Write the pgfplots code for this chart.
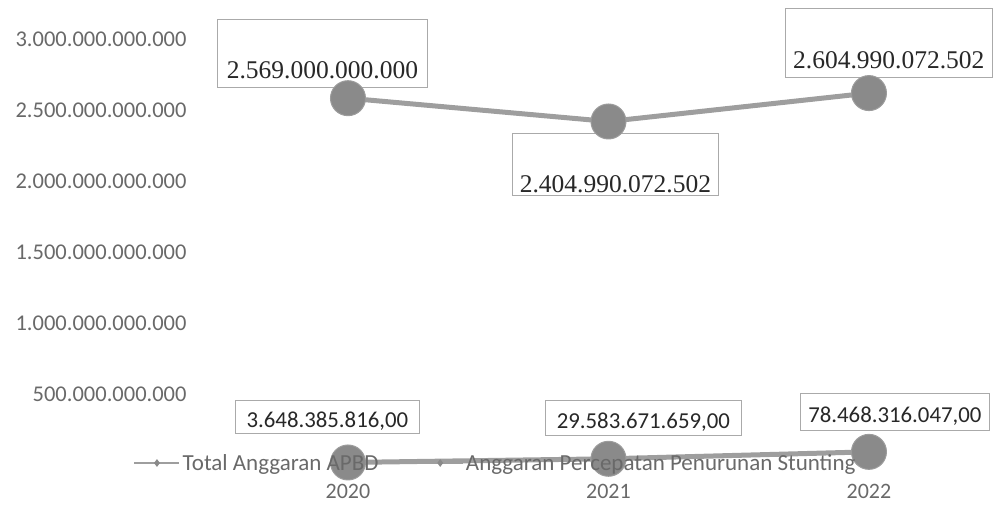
\documentclass[border=0pt]{standalone}
\usepackage{pgfplots}
\pgfplotsset{compat=1.18}
\usepackage{fontspec}
\setmainfont{Carlito}
\newfontfamily\tnr{Liberation Serif}
\usetikzlibrary{shapes.geometric}
\definecolor{lineg}{RGB}{158,158,158}
\definecolor{markg}{RGB}{138,138,138}
\definecolor{tickg}{RGB}{105,105,105}
\definecolor{boxg}{RGB}{170,170,170}
\definecolor{labg}{RGB}{40,40,40}
\tikzset{box/.style={draw=boxg, line width=0.8pt, fill=white, inner xsep=0pt, inner ysep=0pt, anchor=north west, text=labg}}
\begin{document}
\begin{tikzpicture}
\useasboundingbox (-217.75pt,-42pt) rectangle (776.25pt,463pt);
\begin{axis}[
  scale only axis, width=776.25pt, height=426pt,
  xmin=-0.5, xmax=2.48, ymin=0, ymax=3000e9,
  clip=false, scaled y ticks=false,
  axis line style={draw=none}, major tick length=0pt,
  xtick={0,1,2}, xticklabels={2020,2021,2022},
  ytick={500e9,1000e9,1500e9,2000e9,2500e9,3000e9},
  yticklabels={500.000.000.000,1.000.000.000.000,1.500.000.000.000,2.000.000.000.000,2.500.000.000.000,3.000.000.000.000},
  xticklabel style={anchor=center, yshift=-28pt, font=\fontsize{22}{24}\selectfont, text=tickg},
  yticklabel style={anchor=east, inner sep=0pt, xshift=-31pt, yshift=-2pt, font=\fontsize{22.5}{24}\selectfont, text=tickg},
  legend style={at={(-0.113,0.0)}, anchor=west, draw=none, fill=none,
    font=\fontsize{23}{25}\selectfont, text=tickg, legend columns=2,
    /tikz/every even column/.append style={column sep=36pt},
    nodes={inner sep=2pt}},
  legend image code/.code={
    \draw[lineg, line width=2.5pt] (0pt,0pt) -- (45pt,0pt);
    \node[diamond, fill=markg, inner sep=0pt, minimum width=6pt, minimum height=8pt] at (22.5pt,0pt) {};
  },
]
\addplot[lineg, line width=5pt, mark=*, mark size=17.5pt, mark options={fill=markg, draw=markg!85!white, line width=1pt}, forget plot]
  coordinates {(0,2569000000000) (1,2404990072502) (2,2604990072502)};
\addplot[lineg, line width=5pt, mark=*, mark size=17.5pt, mark options={fill=markg, draw=markg!85!white, line width=1pt}, forget plot]
  coordinates {(0,3648385816) (1,29583671659) (2,78468316047)};
\addlegendimage{lineg}
\addlegendentry{Total Anggaran APBD}
\addlegendimage{lineg}
\addlegendentry{Anggaran Percepatan Penurunan Stunting}
% upper labels
\node[box, minimum width=210pt, text height=59pt, text depth=9pt, font=\tnr\fontsize{25.5}{27}\selectfont] at (axis cs:-0.5029,3126.8e9) {2.569.000.000.000};
\node[box, minimum width=206pt, text height=59pt, text depth=3pt, font=\tnr\fontsize{25.5}{27}\selectfont] at (axis cs:0.6296,2324.0e9) {2.404.990.072.502};
\node[box, minimum width=207pt, text height=60pt, text depth=9pt, font=\tnr\fontsize{25.5}{27}\selectfont] at (axis cs:1.6775,3204.2e9) {2.604.990.072.502};
% lower labels
\node[box, minimum width=184pt, text height=27pt, text depth=6pt, font=\fontsize{22.8}{25}\selectfont] at (axis cs:-0.4338,443.7e9) {3.648.385.816,00};
\node[box, minimum width=196pt, text height=28pt, text depth=7pt, font=\fontsize{22.8}{25}\selectfont] at (axis cs:0.7562,443.7e9) {29.583.671.659,00};
\node[box, minimum width=189pt, text height=29pt, text depth=8pt, font=\fontsize{22.8}{25}\selectfont] at (axis cs:1.7351,493.0e9) {78.468.316.047,00};
\end{axis}
\end{tikzpicture}
\end{document}
